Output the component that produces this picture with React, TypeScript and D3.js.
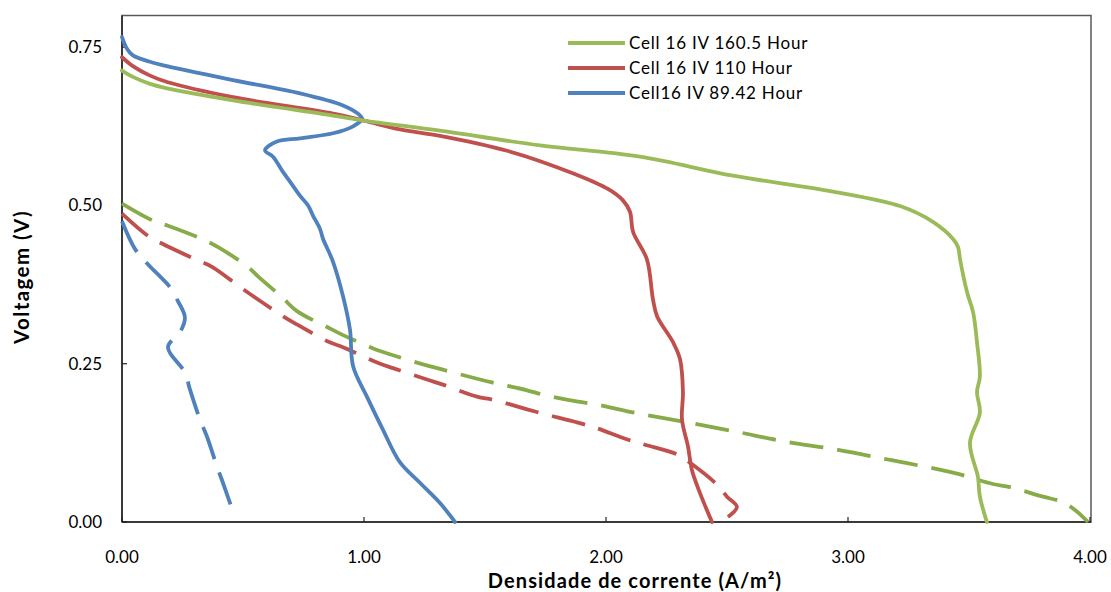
import React from "react";
import * as d3 from "d3";

type P = [number, number];

const xTicks = [0, 1, 2, 3, 4];
const yTicks = [0, 0.25, 0.5, 0.75];

const seriesNames = ["Cell 16 IV 160.5 Hour", "Cell 16 IV 110 Hour", "Cell16 IV 89.42 Hour"];

const green160Solid: P[] = [
  [0, 0.713], [0.045, 0.703], [0.116, 0.692], [0.186, 0.685], [0.459, 0.666], [0.872, 0.642],
  [1.0, 0.634], [1.314, 0.618], [1.727, 0.595], [2.14, 0.577], [2.525, 0.547], [2.938, 0.522],
  [3.215, 0.499], [3.351, 0.474], [3.434, 0.447], [3.455, 0.434], [3.463, 0.415], [3.492, 0.363],
  [3.517, 0.331], [3.533, 0.284], [3.545, 0.23], [3.533, 0.205], [3.545, 0.173], [3.504, 0.125],
  [3.537, 0.071], [3.545, 0.04], [3.574, 0.0],
];

const red110Solid: P[] = [
  [0, 0.734], [0.045, 0.72], [0.116, 0.705], [0.186, 0.695], [0.459, 0.671], [0.872, 0.645],
  [1.0, 0.634], [1.149, 0.62], [1.314, 0.61], [1.595, 0.586], [1.868, 0.55], [2.008, 0.526],
  [2.07, 0.508], [2.099, 0.49], [2.112, 0.458], [2.169, 0.415], [2.194, 0.352], [2.211, 0.325],
  [2.277, 0.284], [2.306, 0.257], [2.318, 0.205], [2.314, 0.162], [2.339, 0.119], [2.355, 0.082],
  [2.388, 0.046], [2.438, 0.0],
];

const blue89Solid: P[] = [
  [0, 0.766], [0.02, 0.748], [0.045, 0.737], [0.116, 0.727], [0.186, 0.72], [0.459, 0.698],
  [0.736, 0.677], [0.913, 0.658], [0.975, 0.645], [0.992, 0.637], [0.955, 0.625], [0.872, 0.614],
  [0.736, 0.606], [0.64, 0.601], [0.591, 0.587], [0.624, 0.577], [0.665, 0.553], [0.686, 0.542],
  [0.736, 0.515], [0.769, 0.5], [0.789, 0.484], [0.818, 0.463], [0.831, 0.447], [0.872, 0.411],
  [0.913, 0.357], [0.942, 0.304], [0.955, 0.246], [1.012, 0.198], [1.078, 0.146], [1.149, 0.094],
  [1.231, 0.062], [1.314, 0.03], [1.376, 0.0],
];

const green160Dashed: P[] = [
  [0, 0.503], [0.128, 0.476], [0.19, 0.468], [0.331, 0.447], [0.397, 0.434], [0.517, 0.404],
  [0.562, 0.388], [0.661, 0.355], [0.723, 0.333], [0.847, 0.308], [0.909, 0.296], [1.045, 0.273],
  [1.107, 0.265], [1.244, 0.249], [1.322, 0.241], [1.459, 0.227], [1.533, 0.22], [1.674, 0.208],
  [1.74, 0.201], [1.884, 0.19], [1.955, 0.186], [2.099, 0.174], [2.314, 0.159], [2.533, 0.143],
  [2.74, 0.127], [2.959, 0.114], [3.174, 0.098], [3.388, 0.082], [3.455, 0.076], [3.599, 0.06],
  [3.669, 0.055], [3.806, 0.04], [3.884, 0.032], [3.938, 0.019], [3.992, 0.0],
];

const red110Dashed: P[] = [
  [0, 0.487], [0.107, 0.452], [0.169, 0.439], [0.302, 0.415], [0.372, 0.403], [0.488, 0.371],
  [0.541, 0.357], [0.665, 0.325], [0.723, 0.312], [0.851, 0.285], [0.913, 0.276], [1.054, 0.252],
  [1.12, 0.243], [1.26, 0.225], [1.326, 0.217], [1.467, 0.198], [1.533, 0.193], [1.674, 0.178],
  [1.74, 0.171], [1.884, 0.157], [1.955, 0.149], [2.091, 0.13], [2.161, 0.122], [2.298, 0.106],
  [2.36, 0.09], [2.459, 0.059], [2.5, 0.04], [2.541, 0.024], [2.504, 0.008],
];

const blue89Dashed: P[] = [
  [0, 0.475], [0.054, 0.431], [0.107, 0.407], [0.198, 0.371], [0.231, 0.349], [0.26, 0.323],
  [0.24, 0.3], [0.19, 0.276], [0.26, 0.236], [0.281, 0.209], [0.322, 0.162], [0.351, 0.135],
  [0.393, 0.087], [0.417, 0.062], [0.459, 0.016],
];

const GREEN = "#9BBB59";
const GREEN_D = "#88AB4A";
const RED = "#C0504D";
const BLUE = "#4F81BD";

const W = 1111;
const H = 592;
const L = 122;
const R = 1090;
const T = 15.5;
const B = 522;

const FONT = "Lato, 'Open Sans', sans-serif";

export default function App() {
  const x = d3.scaleLinear().domain([0, 4]).range([L, R]);
  const y = d3.scaleLinear().domain([0, 0.8]).range([B, T]);
  const line = d3
    .line<P>()
    .x((d) => x(d[0]))
    .y((d) => y(d[1]))
    .curve(d3.curveCatmullRom.alpha(0.5));

  const dashed = [
    { data: green160Dashed, color: GREEN_D },
    { data: red110Dashed, color: RED },
    { data: blue89Dashed, color: BLUE },
  ];
  const solid = [
    { data: blue89Solid, color: BLUE },
    { data: red110Solid, color: RED },
    { data: green160Solid, color: GREEN },
  ];
  const legendColors = [GREEN, RED, BLUE];

  return (
    <svg
      width={W}
      height={H}
      style={{ position: "absolute", left: 0, top: 0, background: "#fff" }}
    >
      <rect x={0} y={0} width={W} height={H} fill="#fff" />
      <rect x={L} y={T} width={R - L + 1} height={B - T} fill="none" stroke="#595959" strokeWidth={1.5} />
      <line x1={L} y1={T} x2={L} y2={B} stroke="#222" strokeWidth={1.5} />
      <line x1={L} y1={B} x2={R + 1} y2={B} stroke="#222" strokeWidth={1.5} />
      {xTicks.map((t) => (
        <g key={"xt" + t}>
          <line x1={x(t)} x2={x(t)} y1={B} y2={B - 5} stroke="#222" strokeWidth={1.2} />
          <text x={x(t)} y={563} textAnchor="middle" fontFamily={FONT} fontSize={17} fill="#000">
            {d3.format(".2f")(t)}
          </text>
        </g>
      ))}
      {yTicks.map((t) => (
        <g key={"yt" + t}>
          <line x1={L} x2={L + 5} y1={y(t)} y2={y(t)} stroke="#222" strokeWidth={1.2} />
          <text x={102} y={y(t) + 6} textAnchor="end" fontFamily={FONT} fontSize={17} fill="#000">
            {d3.format(".2f")(t)}
          </text>
        </g>
      ))}
      {dashed.map((s, i) => (
        <path
          key={"d" + i}
          d={line(s.data) || ""}
          fill="none"
          stroke={s.color}
          strokeWidth={3.8}
          strokeDasharray="34 14"
          strokeLinejoin="round"
        />
      ))}
      {solid.map((s, i) => (
        <path
          key={"s" + i}
          d={line(s.data) || ""}
          fill="none"
          stroke={s.color}
          strokeWidth={3.8}
          strokeLinejoin="round"
          strokeLinecap="round"
        />
      ))}
      {seriesNames.map((n, i) => (
        <g key={"lg" + i}>
          <line x1={568} x2={625} y1={43 + i * 25} y2={43 + i * 25} stroke={legendColors[i]} strokeWidth={4} />
          <text x={629} y={43 + i * 25 + 6} fontFamily={FONT} fontSize={17} letterSpacing={0.8} fill="#000">
            {n}
          </text>
        </g>
      ))}
      <text x={635} y={588} textAnchor="middle" fontFamily={FONT} fontSize={20} letterSpacing={1.1} fontWeight="bold" fill="#000">
        Densidade de corrente (A/m²)
      </text>
      <text
        transform="translate(29,277) rotate(-90)"
        textAnchor="middle"
        fontFamily={FONT}
        fontSize={20.5}
        letterSpacing={1.4}
        fontWeight="bold"
        fill="#000"
      >
        Voltagem (V)
      </text>
    </svg>
  );
}
